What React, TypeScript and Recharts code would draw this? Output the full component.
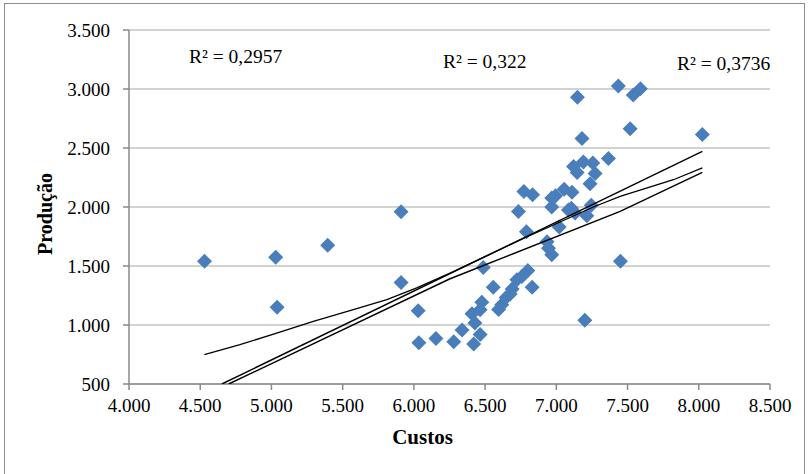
import React from 'react';
import { ScatterChart, Scatter, XAxis, YAxis, CartesianGrid } from 'recharts';

// Custos (x) e Produção (y)
const custos = [
  4530, 5030, 5040, 5395, 5910, 5910, 6030, 6035, 6155, 6280, 6338, 6420, 6465, 6428, 6408, 6465,
  6477, 6487, 6557, 6595, 6617, 6648, 6676, 6690, 6723, 6758, 6800, 6830, 6790, 6734, 6772, 6833,
  6935, 6945, 6968, 6968, 6968, 6995, 7020, 7055, 7085, 7105, 7110, 7132, 7148, 7180, 7121, 7190,
  7256, 7146, 7272, 7237, 7214, 7245, 7200, 7366, 7435, 7540, 7590, 7518, 7450, 8025,
];
const producao = [
  1540, 1575, 1150, 1675, 1960, 1360, 1120, 850, 885, 858, 958, 838, 920, 1018, 1095, 1130,
  1192, 1487, 1320, 1132, 1172, 1234, 1263, 1305, 1384, 1410, 1462, 1320, 1790, 1962, 2132, 2104,
  1705, 1650, 1596, 2000, 2076, 2095, 1830, 2150, 1975, 1990, 2125, 1950, 2930, 2580, 2344, 2382,
  2373, 2292, 2283, 2198, 1925, 2015, 1040, 2410, 3025, 2950, 3003, 2664, 1540, 2615,
];

// linhas de tendência (pontos lidos ao longo de cada linha)
const trendAX = [4652, 8025];
const trendAY = [500, 2471];
const trendBX = [4700, 6250, 7448, 8025];
const trendBY = [500, 1390, 1963, 2293];
const trendCX = [4529, 4779, 5037, 5294, 5575, 5810, 6020, 6254, 6800, 7260, 7448, 7822, 8025];
const trendCY = [748, 833, 932, 1031, 1130, 1215, 1314, 1440, 1750, 2000, 2090, 2231, 2331];

const xTicks = [4000, 4500, 5000, 5500, 6000, 6500, 7000, 7500, 8000, 8500];
const yTicks = [500, 1000, 1500, 2000, 2500, 3000, 3500];

const pontos = custos.map((x, i) => ({ x, y: producao[i] }));
const toLine = (xs: number[], ys: number[]) => xs.map((x, i) => ({ x, y: ys[i] }));

const fmt = (v: number) => String(v).replace(/\B(?=(\d{3})+(?!\d))/g, '.');

const Diamond = (props: any) => {
  const { cx, cy } = props;
  const r = 7.5;
  return (
    <polygon
      points={`${cx},${cy - r} ${cx + r},${cy} ${cx},${cy + r} ${cx - r},${cy}`}
      fill="#4a7ebb"
    />
  );
};

const NoDot = () => null;

const serif = '"Liberation Serif", "Times New Roman", serif';
const tickStyle = { fill: '#000', fontSize: 19, fontFamily: serif };
const lineStyle = { stroke: '#000', strokeWidth: 1.5 };

export default function App() {
  return (
    <div style={{ position: 'relative', width: 808, height: 474, background: '#fff', overflow: 'hidden' }}>
      <style>{`body{margin:0}`}</style>
      <div
        style={{
          position: 'absolute',
          left: 4,
          top: 3,
          width: 801,
          height: 500,
          border: '1px solid #8c8c8c',
          boxSizing: 'border-box',
        }}
      />
      <ScatterChart
        width={808}
        height={474}
        margin={{ top: 30, right: 38, left: 69, bottom: 60 }}
        style={{ position: 'absolute', left: 0, top: 0 }}
      >
        <CartesianGrid vertical={false} stroke="#a6a6a6" strokeWidth={1} />
        <XAxis
          type="number"
          dataKey="x"
          domain={[4000, 8500]}
          ticks={xTicks}
          tickFormatter={fmt}
          height={30}
          tick={tickStyle}
          tickSize={6}
          tickMargin={9}
          stroke="#8a8a8a"
          strokeWidth={1.5}
          allowDataOverflow
        />
        <YAxis
          type="number"
          dataKey="y"
          domain={[500, 3500]}
          ticks={yTicks}
          tickFormatter={fmt}
          width={60}
          tick={tickStyle}
          tickSize={6}
          tickMargin={13}
          stroke="#8a8a8a"
          strokeWidth={1.5}
          allowDataOverflow
        />
        <Scatter data={pontos} shape={<Diamond />} isAnimationActive={false} />
        <Scatter
          data={toLine(trendAX, trendAY)}
          line={lineStyle}
          lineType="joint"
          shape={<NoDot />}
          isAnimationActive={false}
        />
        <Scatter
          data={toLine(trendBX, trendBY)}
          line={lineStyle}
          lineType="joint"
          shape={<NoDot />}
          isAnimationActive={false}
        />
        <Scatter
          data={toLine(trendCX, trendCY)}
          line={{ stroke: '#000', strokeWidth: 1.3 }}
          lineType="joint"
          shape={<NoDot />}
          isAnimationActive={false}
        />
      </ScatterChart>

      <div style={{ position: 'absolute', left: 189, top: 46, fontFamily: serif, fontSize: 19.5, whiteSpace: 'nowrap' }}>
        R² = 0,2957
      </div>
      <div style={{ position: 'absolute', left: 443, top: 51, fontFamily: serif, fontSize: 19.5, whiteSpace: 'nowrap' }}>
        R² = 0,322
      </div>
      <div style={{ position: 'absolute', left: 677, top: 53, fontFamily: serif, fontSize: 19.5, whiteSpace: 'nowrap' }}>
        R² = 0,3736
      </div>

      <div
        style={{
          position: 'absolute',
          left: 0,
          width: 808 - 0,
          top: 425,
          textAlign: 'center',
          paddingLeft: 37,
          boxSizing: 'border-box',
          fontFamily: serif,
          fontWeight: 'bold',
          fontSize: 21,
        }}
      >
        Custos
      </div>
      <div
        style={{
          position: 'absolute',
          left: 45,
          top: 214,
          transform: 'translate(-50%, -50%) rotate(-90deg)',
          fontFamily: serif,
          fontWeight: 'bold',
          fontSize: 20,
          whiteSpace: 'nowrap',
        }}
      >
        Produção
      </div>
    </div>
  );
}
